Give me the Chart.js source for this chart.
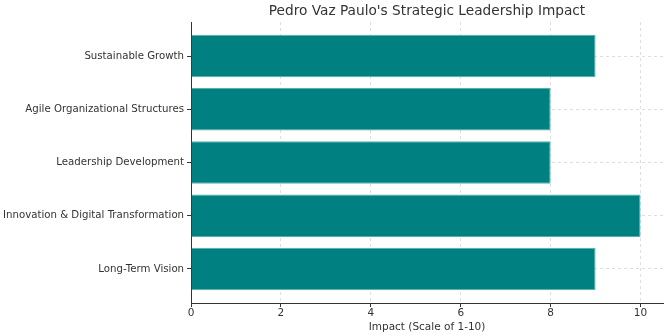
<!DOCTYPE html>
<html>
<head>
<meta charset="utf-8">
<script src="https://cdn.jsdelivr.net/npm/chart.js@4"></script>
<style>
  html, body { margin: 0; padding: 0; background: #fff; }
  #wrap { width: 668px; height: 336px; }
</style>
</head>
<body>
<div id="wrap"><canvas id="impact-chart" width="668" height="336"></canvas></div>
<script>
const chartTitle = "Pedro Vaz Paulo's Strategic Leadership Impact";
const categories = ['Sustainable Growth', 'Agile Organizational Structures', 'Leadership Development', 'Innovation & Digital Transformation', 'Long-Term Vision'];
const impact = [9, 8, 8, 10, 9];
const xTicks = [0, 2, 4, 6, 8, 10];

Chart.defaults.font.family = "'DejaVu Sans', sans-serif";
Chart.defaults.color = '#333';

// title centred over the plot area, like matplotlib does
const titlePlugin = {
  id: 'plotTitle',
  afterDraw(chart) {
    const { ctx, chartArea } = chart;
    ctx.save();
    ctx.font = "13.7px 'DejaVu Sans', sans-serif";
    ctx.fillStyle = '#333';
    ctx.textAlign = 'center';
    ctx.textBaseline = 'middle';
    ctx.fillText(chartTitle, (chartArea.left + chartArea.right) / 2, 11);
    ctx.restore();
  }
};

const ctx = document.getElementById('impact-chart');

new Chart(ctx, {
  type: 'bar',
  data: {
    datasets: [{
      label: 'Impact',
      data: impact.map((v, i) => ({ x: v, y: i })),
      backgroundColor: '#008080',
      borderColor: '#5aaeae',
      borderWidth: 1,
      barPercentage: 1,
      categoryPercentage: 0.8
    }]
  },
  options: {
    indexAxis: 'y',
    responsive: false,
    animation: false,
    layout: { padding: { top: 22, right: 5, left: 0, bottom: 3 } },
    plugins: {
      legend: { display: false },
      tooltip: { enabled: false }
    },
    scales: {
      x: {
        type: 'linear',
        min: 0,
        max: 10.5,
        z: 1,
        afterBuildTicks: (scale) => { scale.ticks = xTicks.map(v => ({ value: v })); },
        grid: { color: 'rgba(200,200,200,0.6)', tickColor: '#333', tickLength: 4 },
        border: { display: true, color: '#333', width: 1, dash: [3, 3] },
        ticks: { font: { size: 10.5, lineHeight: 1 }, padding: 1 },
        title: { display: true, text: 'Impact (Scale of 1-10)', font: { size: 10.5, lineHeight: 1 }, padding: { top: 3, bottom: 0 } }
      },
      y: {
        type: 'linear',
        min: -0.64,
        max: 4.64,
        reverse: true,
        offset: false,
        z: 1,
        afterBuildTicks: (scale) => { scale.ticks = categories.map((c, i) => ({ value: i })); },
        grid: { offset: false, color: 'rgba(200,200,200,0.6)', tickColor: '#333', tickLength: 4 },
        border: { display: true, color: '#333', width: 1, dash: [3, 3] },
        ticks: { font: { size: 10.2 }, padding: 3, callback: (v) => categories[v] }
      }
    }
  },
  plugins: [titlePlugin]
});
</script>
</body>
</html>
